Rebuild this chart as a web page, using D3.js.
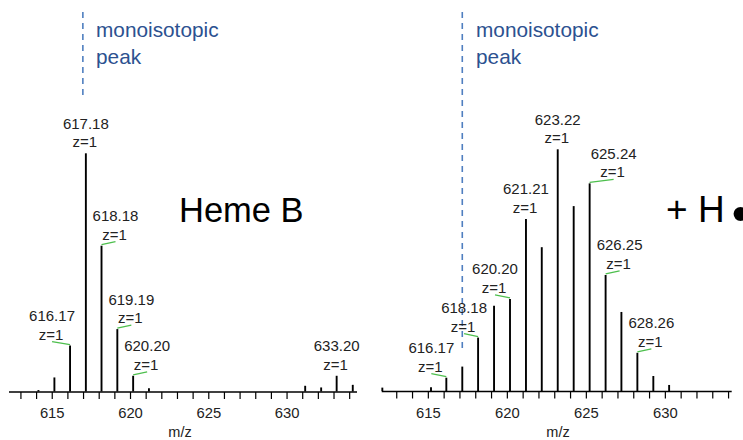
<!DOCTYPE html>
<html>
<head>
<meta charset="utf-8">
<script src="https://cdn.jsdelivr.net/npm/d3@7"></script>
<style>
  html, body { margin: 0; padding: 0; background: #fff; }
  svg { display: block; font-family: "Liberation Sans", Arial, sans-serif; }
</style>
</head>
<body>
<svg id="chart" width="743" height="440"></svg>
<script>
// Heme B spectrum (left) and the +H• spectrum (right): m/z and relative intensity (%)
const hemeMz   = [614.15, 615.17, 616.17, 617.18, 618.18, 619.19, 620.20, 621.21, 631.19, 632.21, 633.20, 634.23];
const hemeInt  = [0.6, 5.9, 19.3, 100, 61.2, 26.2, 6.6, 1.4, 2.4, 1.7, 6.6, 2.8];
const hemeLabeled = [616.17, 617.18, 618.18, 619.19, 620.20, 633.20];

const plusHMz  = [612.12, 615.20, 616.17, 617.18, 618.18, 619.19, 620.20, 621.21, 622.21, 623.22, 624.23, 625.24, 626.25, 627.25, 628.26, 629.27, 630.27];
const plusHInt = [1.4, 1.5, 5.5, 10.1, 22.1, 35.3, 38.1, 71.2, 59.5, 100, 76.5, 85.9, 48.0, 32.7, 15.8, 6.2, 2.5];
const plusHLabeled = [616.17, 618.18, 620.20, 621.21, 623.22, 625.24, 626.25, 628.26];

const chargeText = "z=1";
const monoMz = 617.18;
const annotLines = ["monoisotopic", "peak"];
const axisTicks = [615, 620, 625, 630];
const axisTitle = "m/z";
const panelTitles = [["Heme B"], ["+ H", "\u2022"]];

// Panel layout: axis extent, baseline, scaling and label nudges (px)
const panels = [
  {
    mz: hemeMz, inten: hemeInt, labeled: hemeLabeled,
    domain: [612.27, 634.5], range: [9, 357], base: 391.5, top: 153.3,
    nudge: {"616.17": -18, "617.18": 0, "618.18": 14, "619.19": 14, "620.20": 14, "633.20": 0},
    title: panelTitles[0], titleX: 179, titleY: 222, titleSize: 34.5, titleX2: 180,
    annot: { dx: -3, y1: 12, y2: 100, textX: 96 }
  },
  {
    mz: plusHMz, inten: plusHInt, labeled: plusHLabeled,
    domain: [612.08, 634.23], range: [381.7, 731.7], base: 391, top: 149.3,
    nudge: {"616.17": -15, "618.18": -14, "620.20": -15, "621.21": 0, "623.22": 0, "625.24": 24, "626.25": 14, "628.26": 14},
    title: panelTitles[1], titleX: 666, titleY: 222, titleSize: 37, titleX2: 558,
    annot: { dx: 0, y1: 12, y2: 350, textX: 476 }
  }
];

const svg = d3.select("#chart");

panels.forEach(p => {
  const x = d3.scaleLinear().domain(p.domain).range(p.range);
  const y = d3.scaleLinear().domain([0, 100]).range([p.base, p.top]);
  const g = svg.append("g");

  // monoisotopic marker
  const ax = x(monoMz) + p.annot.dx;
  g.append("line")
    .attr("x1", ax).attr("x2", ax)
    .attr("y1", p.annot.y1).attr("y2", p.annot.y2)
    .attr("stroke", "#4F7FC0").attr("stroke-width", 1.6)
    .attr("stroke-dasharray", "6,5");
  g.selectAll("text.annot").data(annotLines).join("text")
    .attr("class", "annot")
    .attr("x", p.annot.textX)
    .attr("y", (d, i) => 37 + i * 26.5)
    .attr("fill", "#2C5190")
    .attr("font-size", 20.8)
    .text(d => d);

  // axis with integer ticks, labelled every 5
  const ints = d3.range(Math.ceil(p.domain[0]), Math.floor(p.domain[1]) + 1);
  const axis = d3.axisBottom(x)
    .tickValues(ints)
    .tickSize(7)
    .tickFormat(d => axisTicks.includes(d) ? d : "");
  const axG = g.append("g")
    .attr("transform", `translate(0,${p.base + 0.5})`)
    .call(axis);
  axG.select(".domain").attr("stroke", "#000").attr("stroke-width", 1.6)
    .attr("d", `M${p.range[0]},0H${p.range[1]}`);
  axG.selectAll(".tick line").attr("stroke", "#000").attr("stroke-width", 1.2);
  axG.selectAll(".tick text")
    .attr("font-family", "Liberation Sans, Arial, sans-serif")
    .attr("font-size", 14.8).attr("fill", "#222").attr("dy", 0)
    .attr("y", 26);

  g.append("text")
    .attr("x", p.titleX2)
    .attr("y", 437)
    .attr("text-anchor", "middle")
    .attr("font-size", 14.5).attr("fill", "#222")
    .text(axisTitle);

  // centroid peaks
  const peaks = p.mz.map((m, i) => ({ mz: m, v: p.inten[i] }));
  g.selectAll("line.peak").data(peaks).join("line")
    .attr("class", "peak")
    .attr("x1", d => x(d.mz)).attr("x2", d => x(d.mz))
    .attr("y1", p.base).attr("y2", d => y(d.v))
    .attr("stroke", "#000").attr("stroke-width", 1.9);

  // peak annotations
  const labeled = peaks.filter(d => p.labeled.includes(d.mz));
  labeled.forEach(d => {
    const key = d.mz.toFixed(2);
    const dx = p.nudge[key] || 0;
    const px = x(d.mz), py = y(d.v);
    const cx = px + dx;
    if (dx !== 0) {
      g.append("line")
        .attr("x1", px).attr("y1", py - 1)
        .attr("x2", cx).attr("y2", py - 4)
        .attr("stroke", "#4DBF4D").attr("stroke-width", 1.3);
    }
    g.append("text")
      .attr("x", cx).attr("y", py - 24.5)
      .attr("text-anchor", "middle")
      .attr("font-size", 15).attr("fill", "#222")
      .text(key);
    g.append("text")
      .attr("x", cx - 1).attr("y", py - 6)
      .attr("text-anchor", "middle")
      .attr("font-size", 15).attr("fill", "#222")
      .text(chargeText);
  });

  // panel title; the radical dot is set larger and dropped to mid-height
  const t = g.append("text")
    .attr("x", p.titleX).attr("y", p.titleY)
    .attr("font-size", p.titleSize).attr("fill", "#000");
  t.selectAll("tspan").data(p.title).join("tspan")
    .attr("dx", (d, i) => i === 0 ? 0 : 7)
    .attr("dy", (d, i) => i === 0 ? 0 : 9)
    .attr("font-size", (d, i) => i === 0 ? p.titleSize : 52)
    .text(d => d);
});
</script>
</body>
</html>
